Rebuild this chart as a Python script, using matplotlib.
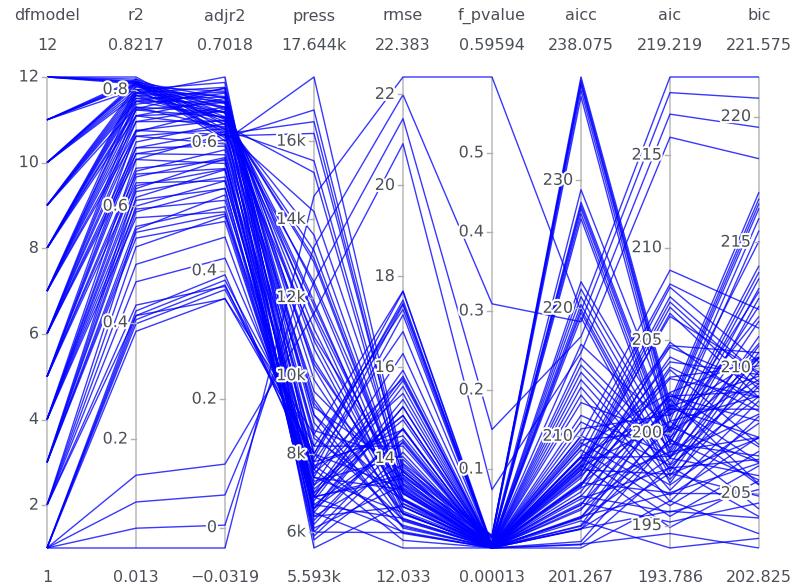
import numpy as np
import matplotlib
matplotlib.use("Agg")
import matplotlib.pyplot as plt
import matplotlib.patheffects as pe
from matplotlib.collections import LineCollection

plt.rcParams["font.family"] = ["DejaVu Sans"]

# Candidate regression models: one entry per model in every list
dimensions = ["dfmodel", "r2", "adjr2", "press", "rmse", "f_pvalue", "aicc", "aic", "bic"]

dfmodel = [1] * 9 + [2] * 6 + [3] * 7 + [4] * 8 + [5] * 7 + [6] * 8 \
    + [7] * 8 + [8] * 8 + [9] * 7 + [10] * 7 + [11] * 6 + [12] * 6

r2 = [0.013, 0.047, 0.092, 0.138, 0.385, 0.398, 0.405, 0.412, 0.420,
      0.412, 0.430, 0.470, 0.500, 0.530, 0.560,
      0.545, 0.555, 0.565, 0.590, 0.600, 0.615, 0.630,
      0.580, 0.595, 0.610, 0.625, 0.635, 0.650, 0.660, 0.680,
      0.640, 0.655, 0.665, 0.690, 0.700, 0.710, 0.7275,
      0.680, 0.690, 0.700, 0.720, 0.730, 0.745, 0.755, 0.767,
      0.720, 0.730, 0.745, 0.755, 0.765, 0.775, 0.780, 0.7926,
      0.755, 0.765, 0.770, 0.780, 0.785, 0.790, 0.795, 0.800,
      0.770, 0.780, 0.785, 0.790, 0.795, 0.800, 0.805,
      0.790, 0.795, 0.800, 0.805, 0.808, 0.810, 0.813,
      0.800, 0.808, 0.810, 0.812, 0.815, 0.818,
      0.8098, 0.812, 0.8135, 0.815, 0.818, 0.8217]

adjr2 = [-0.0319, 0.0037, 0.0507, 0.0988, 0.3570, 0.3706, 0.3780, 0.3853, 0.3936,
         0.3560, 0.3757, 0.4195, 0.4524, 0.4852, 0.5181,
         0.4768, 0.4883, 0.4998, 0.5285, 0.5400, 0.5573, 0.5745,
         0.4916, 0.5097, 0.5279, 0.5461, 0.5582, 0.5763, 0.5884, 0.6126,
         0.5400, 0.5592, 0.5719, 0.6039, 0.6167, 0.6294, 0.6518,
         0.5671, 0.5806, 0.5941, 0.6212, 0.6347, 0.6550, 0.6685, 0.6848,
         0.5975, 0.6119, 0.6334, 0.6478, 0.6622, 0.6766, 0.6838, 0.7018,
         0.6243, 0.6397, 0.6473, 0.6627, 0.6703, 0.6780, 0.6857, 0.6933,
         0.6221, 0.6386, 0.6468, 0.6550, 0.6632, 0.6714, 0.6796,
         0.6285, 0.6373, 0.6462, 0.6550, 0.6603, 0.6638, 0.6692,
         0.6167, 0.6320, 0.6358, 0.6397, 0.6454, 0.6512,
         0.6023, 0.6069, 0.6100, 0.6132, 0.6195, 0.6272]

press = [14600, 13300, 12400, 11600, 8000, 7900, 7600, 8200, 7400,
         8500, 8000, 7800, 7200, 6900, 6600,
         7000, 7600, 6800, 6600, 7100, 6300, 6000,
         6900, 7500, 6500, 7000, 6200, 6600, 5900, 5800,
         7200, 7700, 6700, 6400, 6900, 6100, 5593,
         7800, 8200, 7300, 6900, 7400, 6400, 6700, 6000,
         8600, 9200, 8000, 8400, 7400, 7700, 6900, 6500,
         9600, 10300, 9000, 9300, 8500, 8800, 8000, 7600,
         11000, 11600, 10400, 10900, 9900, 9400, 9000,
         12400, 13000, 11800, 11200, 11500, 10700, 10200,
         14200, 13600, 13200, 12900, 12300, 11900,
         17644, 16800, 16200, 16500, 15500, 15200]

rmse = [22.383, 21.993, 21.468, 20.917, 17.668, 17.481, 17.378, 17.276, 17.158,
        17.682, 17.410, 16.788, 16.305, 15.809, 15.296,
        15.939, 15.762, 15.584, 15.130, 14.944, 14.661, 14.373,
        15.711, 15.428, 15.140, 14.846, 14.646, 14.342, 14.136, 13.714,
        14.944, 14.630, 14.416, 13.868, 13.642, 13.413, 13.002,
        14.498, 14.270, 14.038, 13.562, 13.317, 12.942, 12.686, 12.371,
        13.979, 13.727, 13.340, 13.076, 12.806, 12.531, 12.391, 12.033,
        13.505, 13.227, 13.085, 12.797, 12.651, 12.503, 12.354, 12.202,
        13.544, 13.247, 13.095, 12.942, 12.787, 12.630, 12.471,
        13.431, 13.270, 13.107, 12.942, 12.842, 12.775, 12.674,
        13.642, 13.367, 13.297, 13.227, 13.121, 13.014,
        13.895, 13.815, 13.760, 13.704, 13.593, 13.454]

f_pvalue = [0.59594, 0.309, 0.150, 0.074, 0.0012, 0.00095, 0.0008, 0.0007, 0.0006,
            0.0037, 0.0027, 0.0013, 0.0007, 0.0004, 0.0002,
            0.0011, 0.0009, 0.0007, 0.0004, 0.0003, 0.0002, 0.00015,
            0.0018, 0.0012, 0.0009, 0.0006, 0.0005, 0.0003, 0.0003, 0.00015,
            0.0014, 0.0010, 0.0008, 0.0004, 0.0003, 0.00025, 0.00013,
            0.0014, 0.0011, 0.0009, 0.0005, 0.0004, 0.0003, 0.0002, 0.00015,
            0.0015, 0.0012, 0.0007, 0.0006, 0.0004, 0.0003, 0.0003, 0.0002,
            0.0017, 0.0014, 0.0011, 0.0009, 0.0007, 0.0006, 0.0005, 0.0004,
            0.0030, 0.0023, 0.0019, 0.0017, 0.0014, 0.0012, 0.0010,
            0.0045, 0.0040, 0.0035, 0.0030, 0.0028, 0.0026, 0.0024,
            0.0090, 0.0070, 0.0065, 0.0060, 0.0058, 0.0050,
            0.0160, 0.0150, 0.0145, 0.0140, 0.0130, 0.0120]

aicc = [219.790, 218.946, 217.785, 216.537, 208.434, 207.921, 207.640, 207.356, 207.028,
        209.985, 209.239, 207.493, 206.094, 204.610, 203.026,
        206.736, 206.203, 205.657, 204.237, 203.644, 202.727, 201.773,
        208.043, 207.170, 206.264, 205.323, 204.674, 203.667, 202.972, 201.517,
        207.951, 206.930, 206.224, 204.363, 203.576, 202.762, 201.267,
        209.184, 208.422, 207.635, 205.979, 205.106, 203.734, 202.774, 201.569,
        210.579, 209.706, 208.334, 207.374, 206.374, 205.330, 204.791, 203.386,
        212.631, 211.631, 211.115, 210.048, 209.496, 208.931, 208.353, 207.760,
        217.181, 216.114, 215.562, 214.997, 214.419, 213.826, 213.219,
        222.074, 221.496, 220.903, 220.296, 219.924, 219.672, 219.290,
        229.267, 228.288, 228.036, 227.783, 227.396, 227.004,
        238.075, 237.819, 237.626, 237.432, 237.040, 236.547]

aic = [219.219, 218.375, 217.214, 215.966, 207.863, 207.350, 207.069, 206.785, 206.457,
       208.785, 208.039, 206.293, 204.894, 203.410, 201.826,
       204.631, 204.098, 203.552, 202.132, 201.539, 200.622, 199.668,
       204.710, 203.837, 202.931, 201.990, 201.341, 200.334, 199.639, 198.184,
       203.010, 201.989, 201.283, 199.422, 198.635, 197.821, 196.327,
       202.184, 201.422, 200.635, 198.979, 198.106, 196.734, 195.774, 194.569,
       200.979, 200.106, 198.734, 197.774, 196.774, 195.730, 195.191, 193.786,
       199.774, 198.774, 198.258, 197.191, 196.639, 196.074, 195.496, 194.903,
       200.258, 199.191, 198.639, 198.074, 197.496, 196.903, 196.296,
       200.074, 199.496, 198.903, 198.296, 197.924, 197.672, 197.290,
       200.903, 199.924, 199.672, 199.419, 199.032, 198.640,
       201.675, 201.419, 201.226, 201.032, 200.640, 200.147]

bic = [221.575, 220.731, 219.570, 218.322, 210.219, 209.706, 209.425, 209.141, 208.813,
       212.319, 211.573, 209.827, 208.428, 206.944, 205.360,
       209.343, 208.810, 208.264, 206.844, 206.251, 205.334, 204.380,
       210.600, 209.727, 208.821, 207.880, 207.231, 206.224, 205.529, 204.074,
       210.078, 209.057, 208.351, 206.490, 205.703, 204.889, 203.395,
       210.430, 209.668, 208.881, 207.225, 206.352, 204.980, 204.020, 202.825,
       210.403, 209.530, 208.158, 207.198, 206.198, 205.154, 204.615, 203.210,
       210.377, 209.377, 208.861, 207.794, 207.242, 206.677, 206.099, 205.506,
       212.039, 210.972, 210.420, 209.855, 209.277, 208.684, 208.077,
       213.033, 212.455, 211.862, 211.255, 210.883, 210.631, 210.249,
       215.040, 214.061, 213.809, 213.556, 213.169, 212.777,
       216.990, 216.734, 216.541, 216.347, 215.955, 215.462]

columns = [dfmodel, r2, adjr2, press, rmse, f_pvalue, aicc, aic, bic]

# Axis ticks (values and their labels)
tick_values = [
    [2, 4, 6, 8, 10, 12],
    [0.2, 0.4, 0.6, 0.8],
    [0.0, 0.2, 0.4, 0.6],
    [6000, 8000, 10000, 12000, 14000, 16000],
    [14, 16, 18, 20, 22],
    [0.1, 0.2, 0.3, 0.4, 0.5],
    [210, 220, 230],
    [195, 200, 205, 210, 215],
    [205, 210, 215, 220],
]
tick_labels = [
    ["2", "4", "6", "8", "10", "12"],
    ["0.2", "0.4", "0.6", "0.8"],
    ["0", "0.2", "0.4", "0.6"],
    ["6k", "8k", "10k", "12k", "14k", "16k"],
    ["14", "16", "18", "20", "22"],
    ["0.1", "0.2", "0.3", "0.4", "0.5"],
    ["210", "220", "230"],
    ["195", "200", "205", "210", "215"],
    ["205", "210", "215", "220"],
]


def range_label(kind, v):
    if kind == "press":
        s = f"{v / 1000:.3f}".rstrip("0").rstrip(".") + "k"
    elif kind == "dfmodel":
        s = f"{int(round(v))}"
    elif kind in ("r2", "adjr2"):
        s = f"{v:.4f}".rstrip("0").rstrip(".")
    elif kind == "f_pvalue":
        s = f"{v:.5f}".rstrip("0").rstrip(".")
    else:
        s = f"{v:.3f}".rstrip("0").rstrip(".")
    return s.replace("-", "\u2212")


W, H = 798, 587
fig = plt.figure(figsize=(W / 100, H / 100), dpi=100)
x0, x1, ytop, ybot = 47, 759, 77, 548
ax = fig.add_axes([x0 / W, (H - ybot) / H, (x1 - x0) / W, (ybot - ytop) / H])
n_dim = len(dimensions)
ax.set_xlim(0, n_dim - 1)
ax.set_ylim(0, 1)
ax.axis("off")

data = np.array(columns, dtype=float).T
lo = data.min(axis=0)
hi = data.max(axis=0)
norm = (data - lo) / (hi - lo)

xs = np.arange(n_dim)
segs = [np.column_stack([xs, row]) for row in norm]

text_color = "#4b5058"
halo = [pe.withStroke(linewidth=3, foreground="white")]
px = 1.0 / 89.0  # one pixel in x data units

for i in range(n_dim):
    ax.plot([i, i], [0, 1], color="#c8c8c8", lw=1.4, zorder=1,
            solid_capstyle="butt", clip_on=False)

lc = LineCollection(segs, colors=[(0.0, 0.0, 1.0, 0.78)], linewidths=1.0,
                    zorder=2, clip_on=False)
ax.add_collection(lc)

for i in range(n_dim):
    for v, lab in zip(tick_values[i], tick_labels[i]):
        yn = (v - lo[i]) / (hi[i] - lo[i])
        ax.plot([i - 5 * px, i], [yn, yn], color="#b0b0b0", lw=1.0, zorder=3,
                clip_on=False)
        ax.text(i - 8 * px, yn, lab, ha="right", va="center", fontsize=11.5,
                color=text_color, zorder=4, path_effects=halo, clip_on=False)

    xf = (x0 + i * (x1 - x0) / (n_dim - 1)) / W
    fig.text(xf, 1 - 16 / H, dimensions[i], ha="center", va="center",
             fontsize=11.5, color=text_color)
    fig.text(xf, 1 - 46 / H, range_label(dimensions[i], hi[i]), ha="center",
             va="center", fontsize=11.5, color=text_color)
    fig.text(xf, 1 - 577 / H, range_label(dimensions[i], lo[i]), ha="center",
             va="center", fontsize=11.5, color=text_color)

fig.savefig("out.png", dpi=100, facecolor="white")
